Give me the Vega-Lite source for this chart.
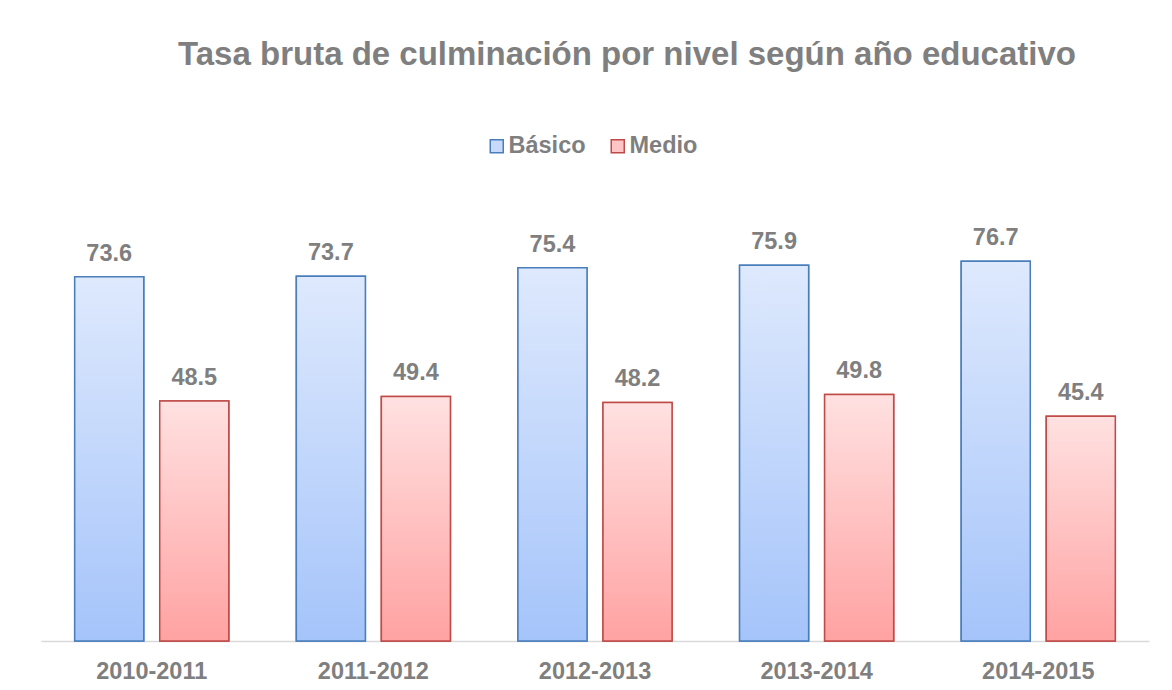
{
  "$schema": "https://vega.github.io/schema/vega-lite/v6.json",
  "width": 1108,
  "height": 495,
  "autosize": {"type": "none"},
  "padding": {"left": 41, "top": 146, "right": 23, "bottom": 49},
  "background": "white",
  "title": {
    "text": "Tasa bruta de culminación por nivel según año educativo",
    "font": "Liberation Sans",
    "fontSize": 33,
    "fontWeight": "bold",
    "color": "#7f7f7f",
    "anchor": "middle",
    "dx": 32,
    "offset": 62
  },
  "data": {
    "values": [
      {"anio": "2010-2011", "nivel": "Básico", "valor": 73.6},
      {"anio": "2010-2011", "nivel": "Medio", "valor": 48.5},
      {"anio": "2011-2012", "nivel": "Básico", "valor": 73.7},
      {"anio": "2011-2012", "nivel": "Medio", "valor": 49.4},
      {"anio": "2012-2013", "nivel": "Básico", "valor": 75.4},
      {"anio": "2012-2013", "nivel": "Medio", "valor": 48.2},
      {"anio": "2013-2014", "nivel": "Básico", "valor": 75.9},
      {"anio": "2013-2014", "nivel": "Medio", "valor": 49.8},
      {"anio": "2014-2015", "nivel": "Básico", "valor": 76.7},
      {"anio": "2014-2015", "nivel": "Medio", "valor": 45.4}
    ]
  },
  "encoding": {
    "x": {
      "field": "anio",
      "type": "nominal",
      "sort": null,
      "scale": {"paddingInner": 0.3047, "paddingOuter": 0.152},
      "axis": {
        "title": null,
        "labelAngle": 0,
        "labelFont": "Liberation Sans",
        "labelFontSize": 23.5,
        "labelFontWeight": "bold",
        "labelColor": "#7f7f7f",
        "labelPadding": 18,
        "ticks": false,
        "domainColor": "#d9d9d9",
        "domainWidth": 1.5,
        "grid": false
      }
    },
    "xOffset": {
      "field": "nivel",
      "type": "nominal",
      "sort": ["Básico", "Medio"],
      "scale": {"paddingInner": 0.188, "paddingOuter": 0}
    },
    "y": {
      "field": "valor",
      "type": "quantitative",
      "scale": {"domain": [0, 100]},
      "axis": null
    }
  },
  "layer": [
    {
      "mark": {"type": "bar", "strokeWidth": 1.5},
      "encoding": {
        "fill": {
          "field": "nivel",
          "type": "nominal",
          "scale": {"domain": ["Básico", "Medio"], "range": ["#c8dafb", "#ffc4c4"]},
          "legend": {
            "title": null,
            "orient": "none",
            "legendX": 444,
            "legendY": -12,
            "direction": "horizontal",
            "symbolType": "square",
            "symbolSize": 169,
            "symbolStrokeWidth": 1.5,
            "labelFont": "Liberation Sans",
            "labelFontSize": 23.5,
            "labelFontWeight": "bold",
            "labelColor": "#7f7f7f",
            "labelOffset": 0,
            "columnPadding": 20
          }
        },
        "stroke": {
          "field": "nivel",
          "type": "nominal",
          "scale": {"domain": ["Básico", "Medio"], "range": ["#4a7ebb", "#be4b48"]},
          "legend": {
            "title": null,
            "orient": "none",
            "legendX": 444,
            "legendY": -12,
            "direction": "horizontal",
            "symbolType": "square",
            "symbolSize": 169,
            "symbolStrokeWidth": 1.5,
            "labelFont": "Liberation Sans",
            "labelFontSize": 23.5,
            "labelFontWeight": "bold",
            "labelColor": "#7f7f7f",
            "labelOffset": 0,
            "columnPadding": 20
          }
        }
      }
    },
    {
      "mark": {"type": "bar", "strokeWidth": 1.5},
      "encoding": {
        "fill": {
          "condition": {
            "test": "datum.nivel === 'Básico'",
            "value": {
              "gradient": "linear",
              "x1": 0, "y1": 0, "x2": 0, "y2": 1,
              "stops": [
                {"offset": 0, "color": "#dee9fd"},
                {"offset": 1, "color": "#a5c4fa"}
              ]
            }
          },
          "value": {
            "gradient": "linear",
            "x1": 0, "y1": 0, "x2": 0, "y2": 1,
            "stops": [
              {"offset": 0, "color": "#ffe1e1"},
              {"offset": 1, "color": "#ffa2a2"}
            ]
          }
        },
        "stroke": {
          "condition": {"test": "datum.nivel === 'Básico'", "value": "#4a7ebb"},
          "value": "#be4b48"
        }
      }
    },
    {
      "mark": {
        "type": "text",
        "font": "Liberation Sans",
        "fontSize": 23.5,
        "fontWeight": "bold",
        "color": "#7f7f7f",
        "baseline": "alphabetic",
        "dy": -16
      },
      "encoding": {
        "text": {"field": "valor", "type": "quantitative", "format": ".1f"}
      }
    }
  ],
  "config": {"view": {"stroke": null}}
}
